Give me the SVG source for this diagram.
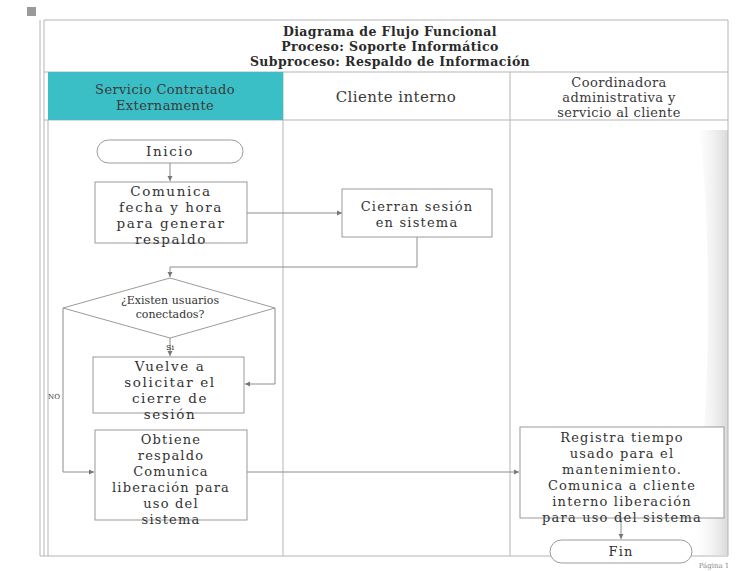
<svg xmlns="http://www.w3.org/2000/svg" width="736" height="571" viewBox="0 0 736 571">
  <style>
    .frame { fill: none; stroke: #b4b4b4; stroke-width: 1; }
    .box { fill: #ffffff; stroke: #9a9a9a; stroke-width: 1; }
    .t { font-family: "DejaVu Serif", "Liberation Serif", serif; fill: #333333; text-anchor: middle; }
    .title { font-size: 12.5px; font-weight: bold; fill: #2a2a2a; letter-spacing: 0.4px; }
    .lane { font-size: 13px; fill: #3a3a3a; letter-spacing: 0.4px; }
    .node { font-size: 13.5px; letter-spacing: 1.6px; }
    .node2 { font-size: 13px; letter-spacing: 1.2px; }
    .small { font-size: 11px; }
    .tiny { font-size: 7px; fill: #888; }
    .conn { fill: none; stroke: #8c8c8c; stroke-width: 1; }
  </style>
  <defs>
    <marker id="arrow" markerWidth="6" markerHeight="6" refX="5" refY="3" orient="auto" markerUnits="userSpaceOnUse">
      <path d="M0,0.5 L5,3 L0,5.5 Z" fill="#777"/>
    </marker>
    <linearGradient id="curl" x1="0" y1="0" x2="1" y2="0">
      <stop offset="0" stop-color="#ffffff" stop-opacity="0"/>
      <stop offset="1" stop-color="#d9d9d9"/>
    </linearGradient>
  </defs>

  <rect x="0" y="0" width="736" height="571" fill="#ffffff"/>

  <!-- small marker at top-left -->
  <rect x="27" y="7" width="9" height="9" fill="#9a9a9a"/>

  <!-- page shading on the right edge -->
  <path d="M700,130 C712,250 712,420 690,555 L728,555 L728,130 Z" fill="url(#curl)"/>

  <!-- outer frame and header -->
  <g id="frame">
    <line x1="40" y1="20" x2="40" y2="556" class="frame"/>
    <line x1="44" y1="20" x2="44" y2="556" class="frame"/>
    <line x1="44" y1="20" x2="728" y2="20" class="frame"/>
    <line x1="728" y1="20" x2="728" y2="556" class="frame"/>
    <line x1="44" y1="72" x2="728" y2="72" class="frame"/>
    <line x1="44" y1="120" x2="728" y2="120" class="frame"/>
    <line x1="48" y1="120" x2="48" y2="556" class="frame"/>
    <line x1="283" y1="72" x2="283" y2="556" class="frame"/>
    <line x1="510" y1="72" x2="510" y2="556" class="frame"/>
    <line x1="40" y1="556" x2="728" y2="556" class="frame"/>
  </g>

  <g id="title">
    <text class="t title" x="390" y="36">Diagrama de Flujo Funcional</text>
    <text class="t title" x="390" y="51">Proceso: Soporte Informático</text>
    <text class="t title" x="390" y="66">Subproceso: Respaldo de Información</text>
  </g>

  <!-- swim lane headers -->
  <g id="lane-servicio">
    <rect x="48" y="72" width="235" height="48" fill="#3bbfc6"/>
    <text class="t lane" x="165" y="94">Servicio Contratado</text>
    <text class="t lane" x="165" y="110">Externamente</text>
  </g>
  <g id="lane-cliente">
    <text class="t lane" x="396" y="102" style="font-size:15px">Cliente interno</text>
  </g>
  <g id="lane-coordinadora">
    <text class="t lane" x="619" y="87">Coordinadora</text>
    <text class="t lane" x="619" y="102">administrativa y</text>
    <text class="t lane" x="619" y="117">servicio al cliente</text>
  </g>

  <!-- connectors -->
  <g id="connectors">
    <path class="conn" d="M170,163 L170,181" marker-end="url(#arrow)"/>
    <path class="conn" d="M247,213 L342,213" marker-end="url(#arrow)"/>
    <path class="conn" d="M417,237 L417,267 L170,267 L170,277" marker-end="url(#arrow)"/>
    <path class="conn" d="M170,338 L170,356" marker-end="url(#arrow)"/>
    <path class="conn" d="M275,308 L275,384 L245,384" marker-end="url(#arrow)"/>
    <path class="conn" d="M63,308 L63,472 L94,472" marker-end="url(#arrow)"/>
    <path class="conn" d="M247,472 L519,472" marker-end="url(#arrow)"/>
    <path class="conn" d="M621,518 L621,539" marker-end="url(#arrow)"/>
    <text class="t" x="170" y="350" style="font-size:8px">Si</text>
    <text class="t" x="54" y="399" style="font-size:7px">NO</text>
  </g>

  <!-- nodes -->
  <g id="inicio">
    <rect class="box" x="97" y="140" width="146" height="23" rx="11.5"/>
    <text class="t node" x="170" y="156">Inicio</text>
  </g>

  <g id="comunica-fecha">
    <rect class="box" x="95" y="182" width="152" height="61"/>
    <text class="t node" x="171" y="196">Comunica</text>
    <text class="t node" x="171" y="212">fecha y hora</text>
    <text class="t node" x="171" y="228">para generar</text>
    <text class="t node" x="171" y="244">respaldo</text>
  </g>

  <g id="cierran-sesion">
    <rect class="box" x="342" y="189" width="150" height="48"/>
    <text class="t node2" x="417" y="211">Cierran sesión</text>
    <text class="t node2" x="417" y="227">en sistema</text>
  </g>

  <g id="existen-usuarios">
    <polygon class="box" points="170,278 275,308 170,338 63,308"/>
    <text class="t small" x="170" y="304">¿Existen usuarios</text>
    <text class="t small" x="170" y="318">conectados?</text>
  </g>

  <g id="vuelve-solicitar">
    <rect class="box" x="93" y="357" width="151" height="56"/>
    <text class="t node" x="170" y="371">Vuelve a</text>
    <text class="t node" x="170" y="387">solicitar el</text>
    <text class="t node" x="170" y="403">cierre de</text>
    <text class="t node" x="170" y="419">sesión</text>
  </g>

  <g id="obtiene-respaldo">
    <rect class="box" x="95" y="430" width="152" height="90"/>
    <text class="t node2" x="171" y="444">Obtiene</text>
    <text class="t node2" x="171" y="460">respaldo</text>
    <text class="t node2" x="171" y="476">Comunica</text>
    <text class="t node2" x="171" y="492">liberación para</text>
    <text class="t node2" x="171" y="508">uso del</text>
    <text class="t node2" x="171" y="524">sistema</text>
  </g>

  <g id="registra-tiempo">
    <rect class="box" x="520" y="427" width="204" height="91"/>
    <text class="t node2" x="622" y="442">Registra tiempo</text>
    <text class="t node2" x="622" y="458">usado para el</text>
    <text class="t node2" x="622" y="474">mantenimiento.</text>
    <text class="t node2" x="622" y="490">Comunica a cliente</text>
    <text class="t node2" x="622" y="506">interno liberación</text>
    <text class="t node2" x="622" y="522">para uso del sistema</text>
  </g>

  <g id="fin">
    <rect class="box" x="550" y="540" width="142" height="23" rx="11.5"/>
    <text class="t node2" x="621" y="556">Fin</text>
  </g>

  <text class="t tiny" x="714" y="568">Página 1</text>
</svg>
